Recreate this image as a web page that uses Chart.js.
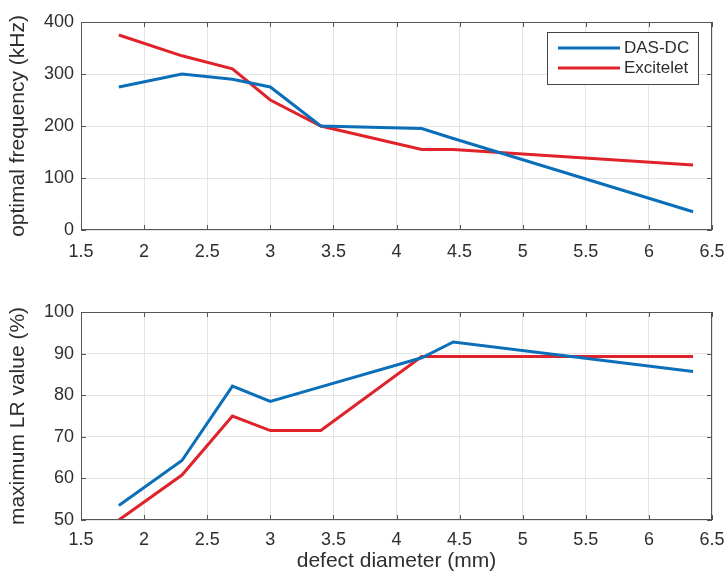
<!DOCTYPE html>
<html>
<head>
<meta charset="utf-8">
<script src="https://cdn.jsdelivr.net/npm/chart.js@4/dist/chart.umd.min.js"></script>
<style>
  html, body { margin: 0; padding: 0; background: #fff; }
  #wrap { position: relative; width: 727px; height: 575px; }
  canvas { position: absolute; left: 0; }
</style>
</head>
<body>
<div id="wrap">
  <canvas id="freqChart" width="727" height="260" style="top:0;width:727px;height:260px"></canvas>
  <canvas id="lrChart" width="727" height="315" style="top:260px;width:727px;height:315px"></canvas>
</div>
<script>
// defect diameters (mm), shared by both plots
const diameters = [1.8, 2.3, 2.7, 3.0, 3.4, 4.2, 4.45, 6.35];

// optimal frequency (kHz)
const freqDas = [275, 300, 290, 275, 200, 195, 176, 35];
const freqExc = [375, 335, 310, 250, 200, 155, 155, 125];

// maximum LR value (%)
const lrDas = [53.5, 64.3, 82.2, 78.5, 82, 89, 92.8, 85.7];
const lrExc = [50, 60.8, 75, 71.5, 71.5, 89.3, 89.3, 89.3];

const seriesNames = ['DAS-DC', 'Excitelet'];
const xTicks = { min: 1.5, max: 6.5, step: 0.5 };

const BLUE = '#0a6fb8';
const RED = '#e0222a';
const TEXT = '#2e2e2e';
const FONT = "'Liberation Sans', Arial, sans-serif";

function pts(ys) {
    return diameters.map((d, i) => ({ x: d, y: ys[i] }));
}

// frame + inward ticks, matlab style
const framePlugin = {
    id: 'frame',
    afterDraw(chart) {
        const { ctx, chartArea: a, scales } = chart;
        ctx.save();
        ctx.strokeStyle = '#555';
        ctx.lineWidth = 1;
        ctx.strokeRect(a.left + 0.5, a.top + 0.5, a.width - 1, a.height - 1);
        const len = 5;
        ctx.beginPath();
        scales.x.ticks.forEach(t => {
            const px = Math.round(scales.x.getPixelForValue(t.value)) + 0.5;
            ctx.moveTo(px, a.bottom); ctx.lineTo(px, a.bottom - len);
            ctx.moveTo(px, a.top); ctx.lineTo(px, a.top + len);
        });
        scales.y.ticks.forEach(t => {
            const py = Math.round(scales.y.getPixelForValue(t.value)) + 0.5;
            ctx.moveTo(a.left, py); ctx.lineTo(a.left + len, py);
            ctx.moveTo(a.right, py); ctx.lineTo(a.right - len, py);
        });
        ctx.stroke();

        // boxed legend in the upper right corner
        const opts = chart.options.plugins.boxLegend;
        if (opts && opts.show) {
            const x0 = 547, y0 = 32, w = 151, h = 52;
            ctx.fillStyle = '#fff';
            ctx.fillRect(x0, y0, w, h);
            ctx.strokeStyle = '#444';
            ctx.strokeRect(x0 + 0.5, y0 + 0.5, w, h);
            ctx.font = '17px ' + FONT;
            ctx.textBaseline = 'middle';
            chart.data.datasets.forEach((ds, i) => {
                const y = y0 + 16 + i * 20;
                ctx.strokeStyle = ds.borderColor;
                ctx.lineWidth = 3;
                ctx.beginPath();
                ctx.moveTo(x0 + 11, y); ctx.lineTo(x0 + 73, y);
                ctx.stroke();
                ctx.fillStyle = TEXT;
                ctx.fillText(ds.label, x0 + 77, y);
            });
        }
        ctx.restore();
    }
};

function makeChart(id, dasData, excData, yMin, yMax, yStep, yTitle, opts) {
    const ctx = document.getElementById(id).getContext('2d');
    return new Chart(ctx, {
        type: 'line',
        data: {
            datasets: [
                { label: seriesNames[0], data: pts(dasData), borderColor: BLUE, backgroundColor: BLUE,
                  borderWidth: 3, pointRadius: 0, tension: 0 },
                { label: seriesNames[1], data: pts(excData), borderColor: RED, backgroundColor: RED,
                  borderWidth: 3, pointRadius: 0, tension: 0 }
            ]
        },
        options: {
            responsive: false,
            animation: false,
            devicePixelRatio: 1,
            layout: { padding: { top: opts.padTop, right: 15, left: 0, bottom: 0 } },
            plugins: {
                legend: { display: false },
                tooltip: { enabled: false },
                boxLegend: { show: opts.legend }
            },
            scales: {
                x: {
                    type: 'linear',
                    min: xTicks.min,
                    max: xTicks.max,
                    ticks: {
                        stepSize: xTicks.step,
                        color: TEXT,
                        padding: opts.xPad,
                        maxRotation: 0,
                        font: { family: FONT, size: 18 },
                        callback: v => String(Number(v.toFixed(2)))
                    },
                    grid: { color: '#e4e4e4', drawTicks: false },
                    border: { display: false },
                    title: {
                        display: !!opts.xTitle,
                        text: opts.xTitle || '',
                        color: TEXT,
                        font: { family: FONT, size: 21 },
                        padding: { top: 1, bottom: 1 }
                    },
                    afterFit: s => {
                        s.height = opts.xHeight;
                        s.paddingLeft = 0;
                        s.paddingRight = 0;
                    }
                },
                y: {
                    min: yMin,
                    max: yMax,
                    ticks: {
                        stepSize: yStep,
                        color: TEXT,
                        padding: 7,
                        font: { family: FONT, size: 18 }
                    },
                    grid: { color: '#e4e4e4', drawTicks: false },
                    border: { display: false },
                    title: {
                        display: true,
                        text: yTitle,
                        color: TEXT,
                        font: { family: FONT, size: 21 },
                        padding: { top: 6, bottom: 0 }
                    },
                    afterFit: s => {
                        s.width = 81;
                        s.paddingTop = 0;
                        s.paddingBottom = 0;
                    }
                }
            }
        },
        plugins: [framePlugin]
    });
}

makeChart('freqChart', freqDas, freqExc, 0, 400, 100, 'optimal frequency (kHz)',
    { padTop: 22, xHeight: 30, xPad: 11, legend: true });
makeChart('lrChart', lrDas, lrExc, 50, 100, 10, 'maximum LR value (%)',
    { padTop: 52, xHeight: 55, xPad: 9, legend: false, xTitle: 'defect diameter (mm)' });
</script>
</body>
</html>
